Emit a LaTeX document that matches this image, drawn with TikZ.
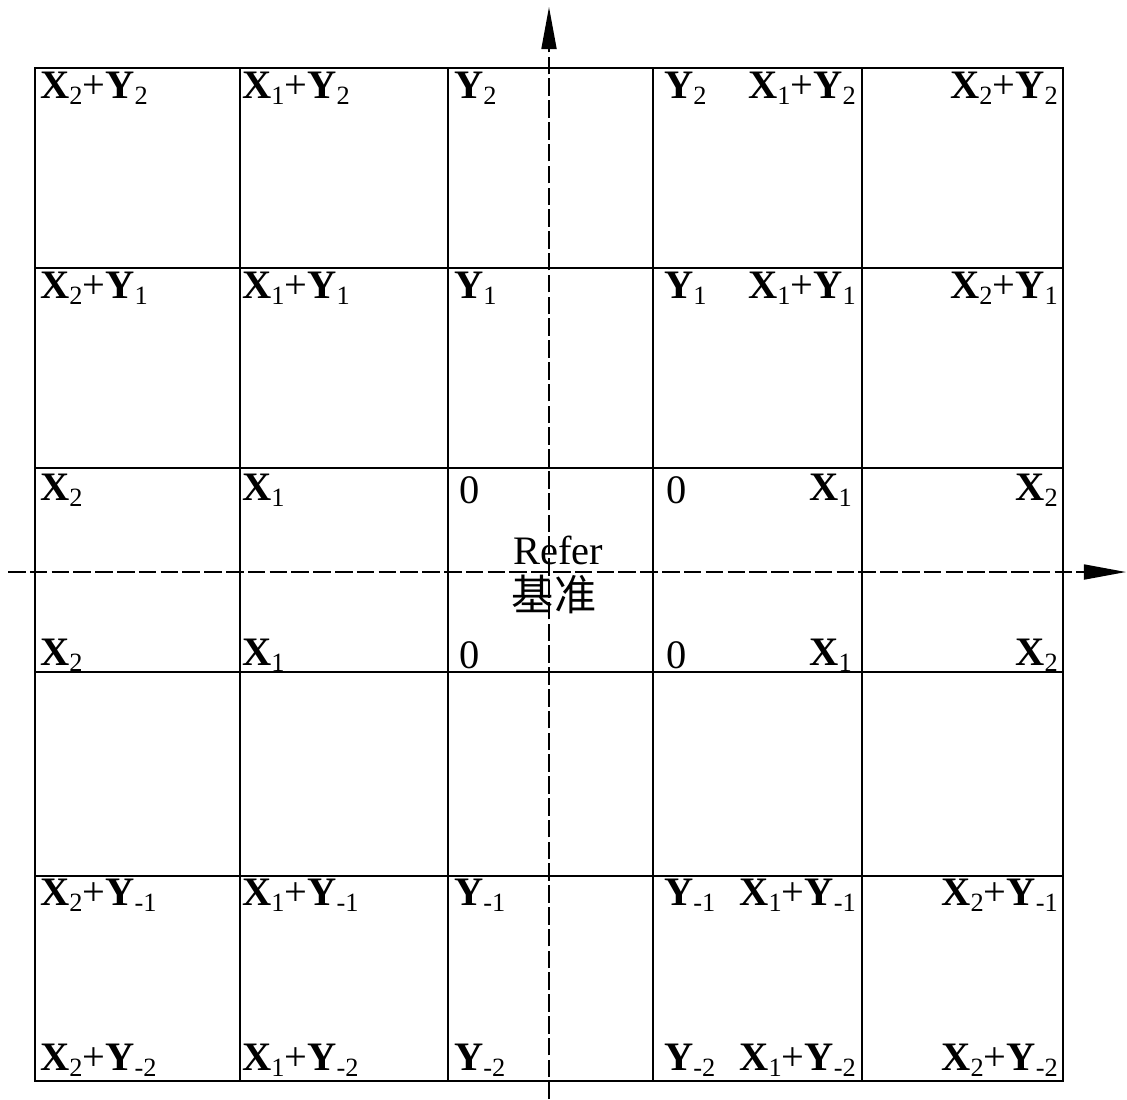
\documentclass[tikz,border=0pt]{standalone}
\usepackage{fontspec}
\setmainfont{Liberation Serif}
\newfontfamily\cjk{Noto Sans CJK SC}
\usetikzlibrary{arrows.meta}
\newcommand{\sbs}[1]{\raisebox{-0.3ex}{\fontsize{7.5}{8}\selectfont #1}}
\newcommand{\Xs}[1]{\textbf{X}\sbs{#1}}
\newcommand{\Ys}[1]{\textbf{Y}\sbs{#1}}

\begin{document}
\begin{tikzpicture}[x=0.01cm,y=-0.01cm,
    grid/.style={black,line width=0.65pt},
    axis/.style={black,line width=0.5pt,dash pattern=on 5pt off 1.2pt,
      -{Triangle[length=0.42cm,width=0.15cm]}},
    lbl/.style={font=\fontsize{11.5}{13}\selectfont,inner sep=1pt},
    lft/.style={lbl,anchor=west},
    rgt/.style={lbl,anchor=east}]
  \useasboundingbox (0,0) rectangle (1127,1099);

  % cells
  \draw[grid] (35,68) rectangle (1063,1081);
  \foreach \xx in {240,448,653,862}
    \draw[grid] (\xx,68) -- (\xx,1081);
  \foreach \yy in {268,468,672,876}
    \draw[grid] (35,\yy) -- (1063,\yy);

  % reference axes
  \coordinate (ybot) at (549,1099);
  \coordinate (ytop) at (549,7);
  \coordinate (xlft) at (8,572);
  \coordinate (xrgt) at (1126,572);
  \draw[axis] (ybot) -- (ytop);
  \draw[axis] (xlft) -- (xrgt);

  % rows with a Y term
  \foreach \yy/\sub/\nm in {88/2/a,288/1/b,895/-1/e,1060/-2/f}{
    \node[lft] (\nm1) at (36,\yy) {\Xs{2}+\Ys{\sub}};
    \node[lft] (\nm2) at (238,\yy) {\Xs{1}+\Ys{\sub}};
    \node[lft] (\nm3) at (450,\yy) {\Ys{\sub}};
    \node[lft] (\nm4) at (660,\yy) {\Ys{\sub}};
    \node[rgt] (\nm5) at (860,\yy) {\Xs{1}+\Ys{\sub}};
    \node[rgt] (\nm6) at (1062,\yy) {\Xs{2}+\Ys{\sub}};
  }

  % rows on the X axis
  \foreach \yy/\nm in {490/c,655/d}{
    \node[lft] (\nm1) at (36,\yy) {\Xs{2}};
    \node[lft] (\nm2) at (238,\yy) {\Xs{1}};
    \node[lft] (\nm3) at (455,\yy) {0};
    \node[lft] (\nm4) at (662,\yy) {0};
    \node[rgt] (\nm5) at (856,\yy) {\Xs{1}};
    \node[rgt] (\nm6) at (1062,\yy) {\Xs{2}};
  }

  \node[lbl] (refer) at (558,550) {Refer};
  \node[lbl,font=\cjk\fontsize{12}{14}\selectfont] (jizhun) at (554,594) {基准};
\end{tikzpicture}
\end{document}
